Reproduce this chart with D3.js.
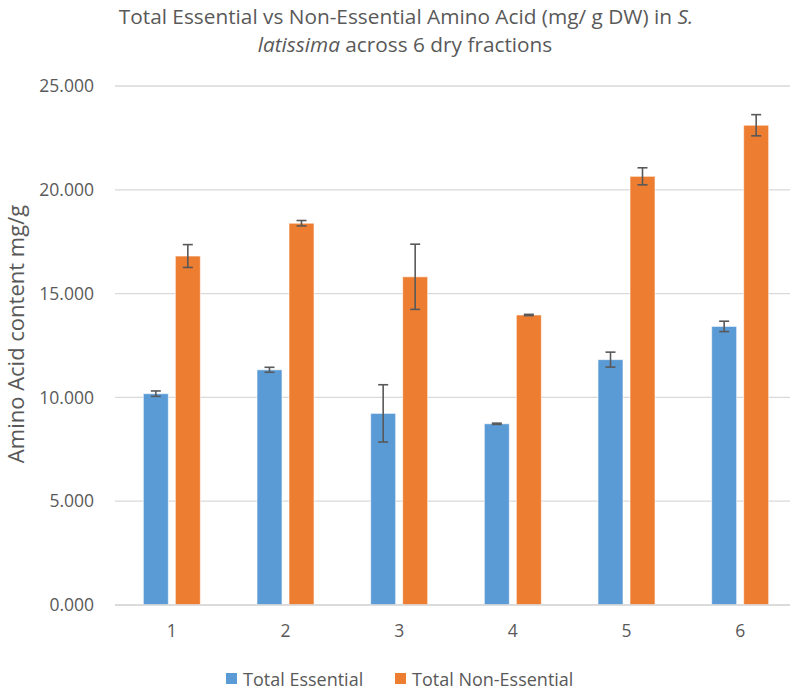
<html>
  <head>
    <meta charset="utf-8">
    <title>amino acids</title>
    <style>
      body { margin: 0; background: #fff; }
      text { font-family: "Open Sans", sans-serif; fill: #595959; }
    </style>
  </head>
  <body>
    <script src="https://cdn.jsdelivr.net/npm/d3@7"></script>
    <script>
    var width = 790, height = 693;

    // data
    var fractions = ['1', '2', '3', '4', '5', '6'];
    var essential = [10.18, 11.33, 9.23, 8.73, 11.82, 13.42];
    var essentialErr = [0.13, 0.12, 1.38, 0.03, 0.36, 0.25];
    var nonEssential = [16.81, 18.39, 15.81, 13.97, 20.65, 23.11];
    var nonEssentialErr = [0.55, 0.13, 1.57, 0.03, 0.41, 0.51];
    var seriesNames = ['Total Essential', 'Total Non-Essential'];
    var colors = ['#5B9BD5', '#ED7D31'];
    var yTicks = [0, 5, 10, 15, 20, 25];

    var padding = {left: 115, right: -7, top: 86, bottom: 88};
    var font = '"Open Sans", sans-serif';

    var svg = d3.select('body').append('svg')
      .attr('width', width).attr('height', height);

    var xScale = d3.scaleBand()
      .domain(fractions)
      .range([padding.left, width - padding.right]);

    var yScale = d3.scaleLinear()
      .domain([0, 25])
      .range([height - padding.bottom, padding.top]);

    var series = [
      {name: seriesNames[0], values: essential, err: essentialErr, color: colors[0]},
      {name: seriesNames[1], values: nonEssential, err: nonEssentialErr, color: colors[1]}
    ];

    // gridlines
    svg.append('g').selectAll('line')
      .data(yTicks)
      .enter().append('line')
      .attr('x1', padding.left).attr('x2', width - padding.right)
      .attr('y1', d => yScale(d)).attr('y2', d => yScale(d))
      .attr('stroke', '#d9d9d9').attr('stroke-width', 1.3);

    // y axis labels
    var yAxis = d3.axisLeft(yScale).tickValues(yTicks).tickFormat(d3.format('.3f')).tickSize(0).tickPadding(21);
    var gy = svg.append('g').attr('transform', 'translate(' + padding.left + ',0)').call(yAxis);
    gy.select('.domain').remove();
    gy.selectAll('text').attr('font-size', 17.5).attr('font-family', font).attr('fill', '#595959');

    // x axis labels
    var xAxis = d3.axisBottom(xScale).tickSize(0).tickPadding(20);
    var gx = svg.append('g').attr('transform', 'translate(0,' + yScale(0) + ')').call(xAxis);
    gx.select('.domain').remove();
    gx.selectAll('text').attr('font-size', 17.5).attr('font-family', font).attr('fill', '#595959');

    var barW = xScale.bandwidth() * 0.22;
    var innerGap = 7;
    function barX(i, s) {
      var groupW = barW * 2 + innerGap;
      return xScale(fractions[i]) + (xScale.bandwidth() - groupW) / 2 + s * (barW + innerGap);
    }

    series.forEach(function(ser, s) {
      var g = svg.append('g');
      g.selectAll('rect')
        .data(ser.values)
        .enter().append('rect')
        .attr('x', (d, i) => barX(i, s))
        .attr('y', d => yScale(d))
        .attr('width', barW)
        .attr('height', d => yScale(0) - yScale(d))
        .attr('fill', ser.color)
        .attr('stroke', 'rgba(255,255,255,0.6)')
        .attr('stroke-width', 1);

      // error bars
      var eb = svg.append('g').attr('stroke', '#595959').attr('stroke-width', 1.6);
      ser.values.forEach(function(v, i) {
        var cx = barX(i, s) + barW / 2;
        var lo = yScale(v - ser.err[i]), hi = yScale(v + ser.err[i]);
        eb.append('line').attr('x1', cx).attr('x2', cx).attr('y1', lo).attr('y2', hi);
        eb.append('line').attr('x1', cx - 5).attr('x2', cx + 5).attr('y1', lo).attr('y2', lo);
        eb.append('line').attr('x1', cx - 5).attr('x2', cx + 5).attr('y1', hi).attr('y2', hi);
      });
    });

    // bottom axis line
    svg.append('line')
      .attr('x1', padding.left).attr('x2', width - padding.right)
      .attr('y1', yScale(0)).attr('y2', yScale(0))
      .attr('stroke', '#d9d9d9').attr('stroke-width', 1.5);

    // title
    var title = svg.append('text').attr('text-anchor', 'middle').attr('font-size', 20.8);
    title.append('tspan').attr('x', 406).attr('y', 24)
      .text('Total Essential vs Non-Essential Amino Acid (mg/ g DW) in ')
      .append('tspan').attr('font-style', 'italic').text('S.');
    var t2 = svg.append('text').attr('text-anchor', 'middle').attr('font-size', 20.8)
      .attr('x', 405).attr('y', 52);
    t2.append('tspan').attr('font-style', 'italic').text('latissima');
    t2.append('tspan').text(' across 6 dry fractions');

    // y label
    svg.append('text')
      .attr('transform', 'translate(24,' + 334 + ') rotate(-90)')
      .attr('text-anchor', 'middle')
      .attr('font-size', 22)
      .text('Amino Acid content mg/g');

    // legend
    var legendX = [226, 395];
    var lg = svg.append('g');
    series.forEach(function(ser, s) {
      lg.append('rect').attr('x', legendX[s]).attr('y', 673).attr('width', 11).attr('height', 11).attr('fill', ser.color);
      lg.append('text').attr('x', legendX[s] + 17).attr('y', 686).attr('font-size', 18).text(ser.name);
    });
    </script>
  </body>
</html>
